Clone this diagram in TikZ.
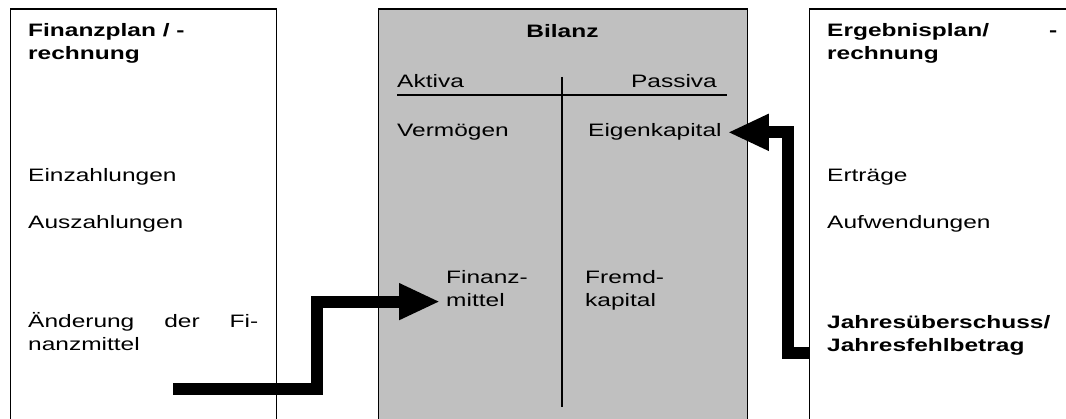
\documentclass[tikz,border=0pt]{standalone}
\usepackage{fontspec}
\setmainfont{Liberation Sans}[FakeStretch=1.36]
\usetikzlibrary{arrows.meta}
\definecolor{bilgrau}{HTML}{C0C0C0}
\newcommand{\grosstext}{\fontsize{18}{23}\selectfont}
\begin{document}
\begin{tikzpicture}[x=1pt, y=-1pt,
    pfeil/.style={line width=12pt, -{Triangle[length=41pt, width=34pt]}}]
\useasboundingbox (0,0) rectangle (1066,419);
\clip (0,0) rectangle (1066,419);
\begin{scope}[every node/.style={draw, line width=1.2pt, inner sep=0pt, anchor=north west, minimum height=440pt}]
    \node[minimum width=266.5pt] (finbox) at (9.5,8.5) {};
    \node[minimum width=369pt, fill=bilgrau] (bilbox) at (378,8.5) {};
    \node[minimum width=300pt] (ergbox) at (809,8.5) {};
\end{scope}
\draw[line width=1.2pt] (397,95) -- (727,95);
\draw[line width=1.2pt] (562,77) -- (562,407);
\begin{scope}[every node/.style={inner sep=0pt, anchor=base west, font=\grosstext}]
    \node[font=\grosstext\bfseries, anchor=north west, align=left] (fp) at (28,23) {Finanzplan / -\\rechnung};
    \node (ez) at (28,182) {Einzahlungen};
    \node (az) at (28,229) {Auszahlungen};
    \node[anchor=north west, align=left] (afm) at (28,312.5) {\makebox[230pt][s]{Änderung der Fi-}\\nanzmittel};
    \node[font=\grosstext\bfseries, anchor=base] (bil) at (562.5,38) {Bilanz};
    \node (akt) at (397,88) {Aktiva};
    \node[anchor=base east] (pas) at (717,88) {Passiva};
    \node (verm) at (397,137) {Vermögen};
    \node (ek) at (588,137) {Eigenkapital};
    \node[anchor=north west, align=left] (fm) at (446,270) {Finanz-\\mittel};
    \node[anchor=north west, align=left] (fk) at (585,270) {Fremd-\\kapital};
    \node[font=\grosstext\bfseries, anchor=north west, align=left] (erg) at (827,23) {\makebox[230pt][s]{Ergebnisplan/ -}\\rechnung};
    \node (ert) at (827,182) {Erträge};
    \node (aufw) at (827,229) {Aufwendungen};
    \node[font=\grosstext\bfseries, anchor=north west, align=left] (jue) at (827,315) {Jahresüberschuss/\\Jahresfehlbetrag};
\end{scope}
\coordinate (fmout) at (173,389);
\coordinate (jueout) at (809,353);
\draw[pfeil, shorten >=6pt] (fmout) -- ++(144,0) |- ([yshift=5pt]fm.south west);
\draw[pfeil, shorten >=6pt] (jueout) -- ++(-21.5,0) |- (ek.east);
\end{tikzpicture}
\end{document}
